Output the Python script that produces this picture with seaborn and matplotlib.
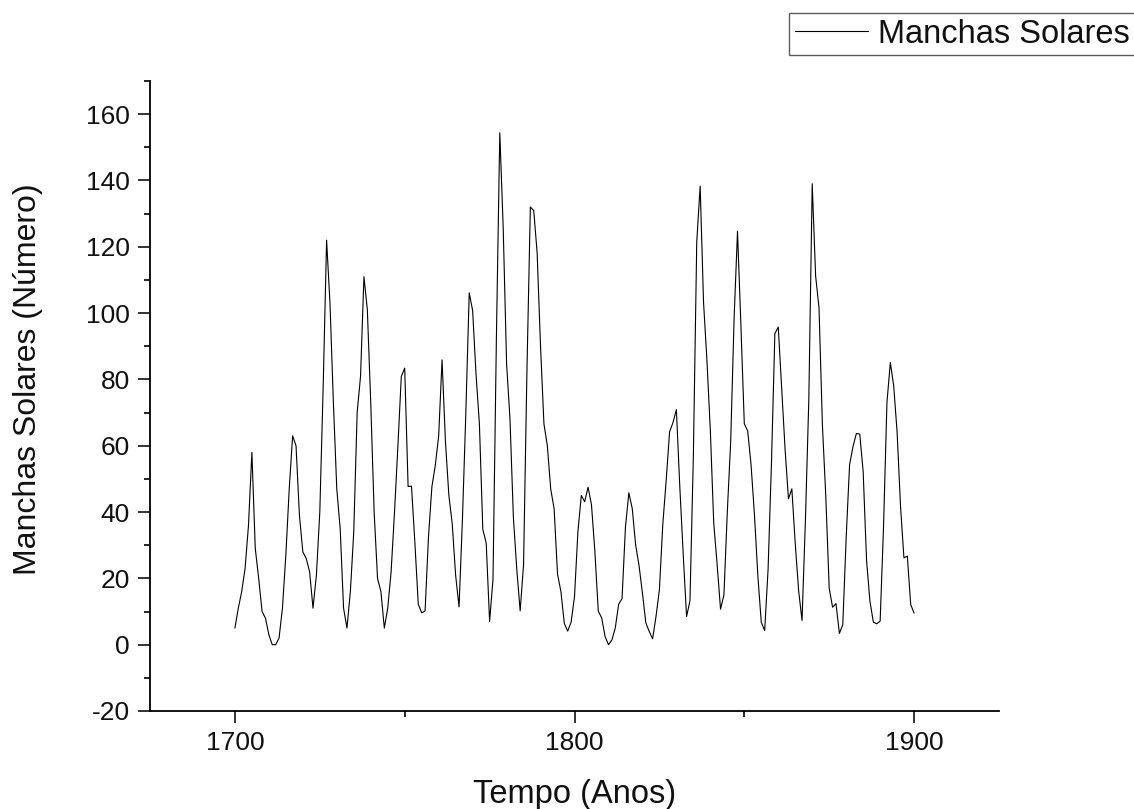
import numpy as np
import pandas as pd
import seaborn as sns
import matplotlib
matplotlib.use("Agg")
import matplotlib.pyplot as plt
from matplotlib.ticker import MultipleLocator

years = list(range(1700, 1901))
sunspots = [
    5, 11, 16, 23, 36, 58, 29, 20, 10, 8,
    3, 0, 0, 2, 11, 27, 47, 63, 60, 39,
    28, 26, 22, 11, 21, 40, 78, 122, 103, 73,
    47, 35, 11, 5, 16, 34, 70, 81, 111, 101,
    73, 40, 20, 16, 5, 11, 22, 40, 60, 80.9,
    83.4, 47.7, 47.8, 30.7, 12.2, 9.6, 10.2, 32.4, 47.6, 54,
    62.9, 85.9, 61.2, 45.1, 36.4, 20.9, 11.4, 37.8, 69.8, 106.1,
    100.8, 81.6, 66.5, 34.8, 30.6, 7, 19.8, 92.5, 154.4, 125.9,
    84.8, 68.1, 38.5, 22.8, 10.2, 24.1, 82.9, 132, 130.9, 118.1,
    89.9, 66.6, 60, 46.9, 41, 21.3, 16, 6.4, 4.1, 6.8,
    14.5, 34, 45, 43.1, 47.5, 42.2, 28.1, 10.1, 8.1, 2.5,
    0, 1.4, 5, 12.2, 13.9, 35.4, 45.8, 41.1, 30.1, 23.9,
    15.6, 6.6, 4, 1.8, 8.5, 16.6, 36.3, 49.6, 64.2, 67,
    70.9, 47.8, 27.5, 8.5, 13.2, 56.9, 121.5, 138.3, 103.2, 85.7,
    64.6, 36.7, 24.2, 10.7, 15, 40.1, 61.5, 98.5, 124.7, 96.3,
    66.6, 64.5, 54.1, 39, 20.6, 6.7, 4.3, 22.7, 54.8, 93.8,
    95.8, 77.2, 59.1, 44, 47, 30.5, 16.3, 7.3, 37.6, 74,
    139, 111.2, 101.6, 66.2, 44.7, 17, 11.3, 12.4, 3.4, 6,
    32.3, 54.3, 59.7, 63.7, 63.5, 52.2, 25.4, 13.1, 6.8, 6.3,
    7.1, 35.6, 73, 85.1, 78, 64, 41.8, 26.2, 26.7, 12.1,
    9.5,
]
series_name = "Manchas Solares"
x_label = "Tempo (Anos)"
y_label = "Manchas Solares (Número)"

df = pd.DataFrame({"ano": years, "valor": sunspots})

sns.set_style("ticks")
plt.rcParams["font.family"] = ["Liberation Sans", "DejaVu Sans"]
plt.rcParams["axes.unicode_minus"] = False

fig = plt.figure(figsize=(11.34, 8.09), dpi=100)
ax = fig.add_axes([150 / 1134, 1 - 711 / 809, (999 - 150) / 1134, (711 - 81) / 809])

sns.lineplot(data=df, x="ano", y="valor", ax=ax, color="black", linewidth=0.8,
             label=series_name, legend=False)

ax.set_xlim(1675, 1925)
ax.set_ylim(-20, 170)
ax.xaxis.set_major_locator(MultipleLocator(100))
ax.xaxis.set_minor_locator(MultipleLocator(50))
ax.yaxis.set_major_locator(MultipleLocator(20))
ax.yaxis.set_minor_locator(MultipleLocator(10))

for s in ["top", "right"]:
    ax.spines[s].set_visible(False)
for s in ["left", "bottom"]:
    ax.spines[s].set_linewidth(1.3)
    ax.spines[s].set_color("black")

ax.tick_params(axis="both", which="major", direction="out", length=8.5, width=1.2,
               labelsize=19, colors="#111111", pad=6)
ax.tick_params(axis="both", which="minor", direction="out", length=4.5, width=1.2, colors="black")
ax.tick_params(axis="x", which="major", pad=6)

ax.set_xlabel(x_label, fontsize=23.5, labelpad=17, color="#111111")
ax.set_ylabel(y_label, fontsize=23, color="#111111")
ax.yaxis.set_label_coords((43 - 150) / 849, (711 - 379) / 630)

handles, labels = ax.get_legend_handles_labels()
fig.legend(handles, labels, loc="upper left", bbox_to_anchor=(789 / 1134, 1 - 13 / 809),
           fontsize=23.5, frameon=True, fancybox=False, edgecolor="#333333",
           handlelength=2.25, handletextpad=0.3, borderpad=0.17, borderaxespad=0,
           labelcolor="#111111")
leg = fig.legends[0]
leg.get_frame().set_linewidth(1.0)

fig.savefig("out.png", dpi=100)
